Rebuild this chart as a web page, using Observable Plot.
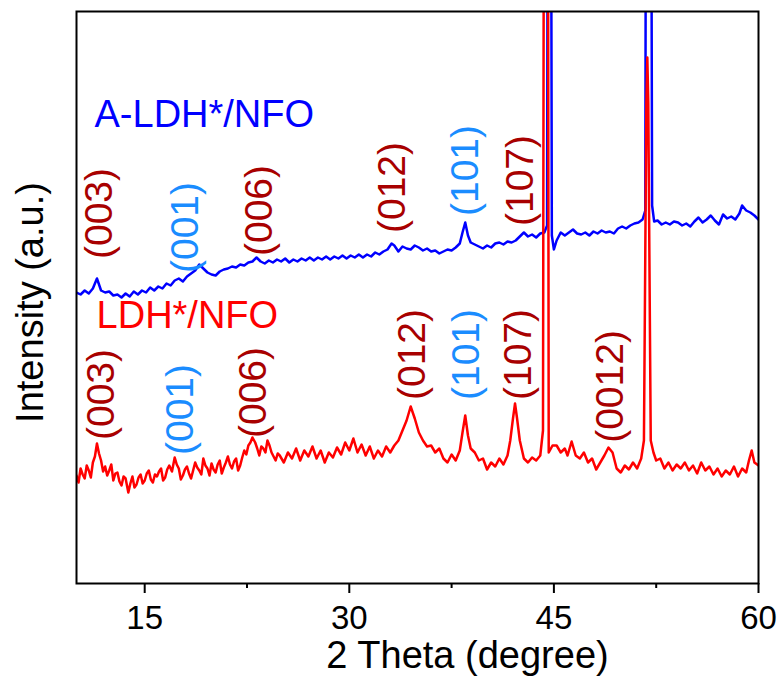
<!DOCTYPE html>
<html>
<head>
<meta charset="utf-8">
<script src="https://cdn.jsdelivr.net/npm/d3@7"></script>
<script src="https://cdn.jsdelivr.net/npm/@observablehq/plot@0.6"></script>
<style>
  html, body { margin: 0; padding: 0; background: #fff; }
  #chart svg { display: block; }
</style>
</head>
<body>
<div id="chart"></div>
<script>
// ---- Data (2θ in degrees, intensity in arbitrary units) ----
const redTheta = [10.0,10.15,10.3,10.45,10.6,10.75,10.9,11.05,11.2,11.35,11.5,11.65,11.8,11.95,12.1,12.25,12.4,12.55,12.7,12.85,13.0,13.15,13.3,13.45,13.6,13.8,13.95,14.1,14.25,14.4,14.55,14.7,14.85,15.0,15.15,15.3,15.45,15.6,15.75,15.9,16.05,16.2,16.35,16.5,16.65,16.8,17.0,17.2,17.35,17.5,17.65,17.8,17.95,18.1,18.25,18.4,18.55,18.7,18.85,19.0,19.15,19.3,19.45,19.6,19.75,19.9,20.05,20.2,20.35,20.5,20.65,20.8,20.95,21.1,21.25,21.4,21.55,21.7,21.85,22.0,22.15,22.3,22.45,22.6,22.75,22.9,23.1,23.25,23.4,23.55,23.7,23.85,24.0,24.15,24.3,24.45,24.6,24.75,24.9,25.2,25.5,25.8,26.1,26.4,26.7,27.0,27.3,27.6,27.9,28.2,28.5,28.8,29.1,29.4,29.7,30.0,30.3,30.6,30.9,31.2,31.5,31.8,32.1,32.4,32.7,33.0,33.3,33.6,33.9,34.2,34.5,34.8,35.1,35.4,35.7,36.0,36.3,36.6,36.9,37.2,37.5,37.8,38.1,38.3,38.5,38.7,38.9,39.2,39.5,39.8,40.1,40.4,40.7,41.0,41.3,41.6,41.8,42.0,42.15,42.3,42.5,42.8,43.1,43.4,43.7,44.0,44.2,44.32,44.52,44.62,44.9,45.2,45.5,45.8,46.0,46.3,46.6,46.9,47.2,47.5,47.8,48.1,48.4,48.7,49.0,49.3,49.6,49.9,50.2,50.5,50.8,51.1,51.4,51.6,51.78,51.85,51.92,52.1,52.3,52.5,52.8,53.1,53.4,53.7,54.0,54.3,54.6,54.9,55.2,55.5,55.8,56.1,56.4,56.7,57.0,57.3,57.6,57.9,58.2,58.5,58.8,59.1,59.3,59.5,59.7,60.0];
const redIntensity = [108,101,115,109,105,118,113,106,121,127,140,130,123,112,117,108,113,119,103,110,111,102,98,107,105,91,100,107,96,99,106,109,100,103,110,113,104,101,109,107,112,115,103,106,114,118,112,126,119,115,104,108,114,117,110,105,113,121,116,113,109,125,118,115,108,120,114,111,119,123,110,116,121,127,119,115,122,125,113,118,126,133,129,138,141,146,141,135,128,137,135,131,143,138,131,127,123,130,128,121,131,125,135,123,133,127,137,125,133,121,131,126,136,129,141,133,145,131,139,128,137,125,133,127,137,131,138,143,153,163,177,165,151,143,137,138,131,135,125,121,129,123,133,151,168,148,135,131,123,125,114,121,117,125,119,128,143,165,180,165,143,125,121,126,123,128,153,1200,1200,131,138,138,131,135,128,142,128,125,131,121,125,114,121,128,136,131,115,111,118,114,121,115,125,143,480,526,480,143,131,123,125,115,121,113,119,115,121,113,118,110,121,113,117,109,115,107,113,109,117,107,115,111,123,133,121,118];

const blueTheta = [10.0,10.3,10.6,10.9,11.2,11.5,11.8,12.1,12.4,12.7,13.0,13.3,13.6,13.9,14.2,14.5,14.8,15.1,15.4,15.7,16.0,16.3,16.6,16.9,17.2,17.5,17.8,18.1,18.4,18.7,19.0,19.3,19.6,19.9,20.2,20.5,20.8,21.1,21.4,21.7,22.0,22.3,22.6,22.9,23.2,23.5,23.8,24.1,24.4,24.7,25.0,25.3,25.6,25.9,26.2,26.5,26.8,27.1,27.4,27.7,28.0,28.3,28.6,28.9,29.2,29.5,29.8,30.1,30.4,30.7,31.0,31.3,31.6,31.9,32.2,32.5,32.8,33.1,33.3,33.6,33.9,34.2,34.5,34.8,35.1,35.4,35.7,36.0,36.3,36.6,36.9,37.2,37.5,37.8,38.1,38.3,38.5,38.7,38.9,39.2,39.5,39.8,40.1,40.4,40.7,41.0,41.3,41.6,41.9,42.2,42.5,42.8,43.1,43.4,43.7,44.0,44.3,44.5,44.6,44.72,44.85,45.0,45.2,45.5,45.8,46.1,46.4,46.7,47.0,47.3,47.6,47.9,48.2,48.5,48.8,49.1,49.4,49.7,50.0,50.3,50.6,50.9,51.2,51.5,51.7,51.8,52.05,52.2,52.35,52.6,52.9,53.2,53.5,53.8,54.1,54.4,54.7,55.0,55.3,55.6,55.9,56.2,56.5,56.8,57.1,57.4,57.7,58.0,58.3,58.6,58.8,59.1,59.4,59.7,60.0];
const blueIntensity = [291,289,293,290,295,305,293,291,292,288,289,286,290,287,292,289,293,291,296,293,297,295,300,298,303,305,302,307,310,313,319,315,311,309,308,312,314,315,317,316,319,318,321,322,326,322,320,323,321,324,322,325,321,324,322,325,323,326,323,326,324,327,324,327,325,328,325,328,326,329,326,329,327,331,329,332,334,340,338,332,337,335,334,338,336,333,335,332,333,330,332,334,333,336,340,351,361,348,341,339,337,335,338,336,340,341,339,342,341,343,347,351,347,349,346,350,351,358,1200,1200,348,334,343,351,348,351,354,350,349,351,348,352,350,353,351,352,350,355,357,355,358,360,361,364,373,1200,1200,378,362,363,359,361,359,362,361,358,360,357,362,366,361,364,368,363,359,369,365,367,364,370,378,373,371,368,364];

// Peak labels (Miller indices): position of label centre, and phase
const labelText  = ["(003)","(001)","(006)","(012)","(101)","(107)",
                    "(003)","(001)","(006)","(012)","(101)","(107)","(0012)"];
const labelTheta = [11.69,17.99,23.42,33.17,38.52,42.55,
                    11.83,17.62,22.98,34.63,38.59,42.40,49.15];
const labelIntensity = [370,356,373,396,413,403,
                        189,174,191,229,229,229,197];
const labelPhase = ["LDH","NFO","LDH","LDH","NFO","LDH",
                    "LDH","NFO","LDH","LDH","NFO","LDH","LDH"];

// Series names
const seriesName = ["A-LDH*/NFO","LDH*/NFO"];
const seriesTheta = [11.32,11.47];
const seriesIntensity = [469,268];

const xMajorTicks = [15,30,45,60];
const xMinorTicks = [22.5,37.5,52.5];

// ---- Build tables ----
const red = redTheta.map((t,i) => ({theta: t, I: redIntensity[i]}));
const blue = blueTheta.map((t,i) => ({theta: t, I: blueIntensity[i]}));
const labels = labelText.map((s,i) => ({text: s, theta: labelTheta[i], I: labelIntensity[i], phase: labelPhase[i]}));
const names = seriesName.map((s,i) => ({text: s, theta: seriesTheta[i], I: seriesIntensity[i]}));

const FONT = "'Liberation Sans', Arial, Helvetica, sans-serif";
const phaseColor = {LDH: "#a80000", NFO: "#1a8cff"};
const seriesColor = ["#0000ff", "#ff0000"];

const chart = Plot.plot({
  width: 780,
  height: 682,
  marginLeft: 76,
  marginRight: 22,
  marginTop: 11,
  marginBottom: 99,
  style: {fontFamily: FONT, background: "#fff", color: "#000"},
  x: {domain: [10, 60]},
  y: {domain: [0, 572]},
  marks: [
    Plot.lineY(blue, {x: "theta", y: "I", stroke: seriesColor[0], strokeWidth: 2.5, clip: true}),
    Plot.lineY(red, {x: "theta", y: "I", stroke: seriesColor[1], strokeWidth: 2.5, clip: true}),
    Plot.text(labels, {x: "theta", y: "I", text: "text", rotate: -90, textAnchor: "middle", lineAnchor: "middle",
      fill: d => phaseColor[d.phase], fontSize: 39}),
    Plot.text(names, {x: "theta", y: "I", text: "text", textAnchor: "start", lineAnchor: "middle",
      fill: (d, i) => seriesColor[i], fontSize: 38}),
    Plot.frame({stroke: "#000", strokeWidth: 2}),
    Plot.axisX({ticks: xMajorTicks, tickSize: 10, tickPadding: 12, fontSize: 33, label: null, strokeWidth: 2, tickFormat: d => String(d)}),
    Plot.axisX({ticks: xMinorTicks, tickSize: 5, label: null, strokeWidth: 2, tickFormat: () => ""}),
    Plot.axisY({ticks: [], label: null}),
    Plot.text(["2 Theta (degree)"], {frameAnchor: "bottom", dx: 50, dy: 72, lineAnchor: "middle", fontSize: 38}),
    Plot.text(["Intensity (a.u.)"], {frameAnchor: "left", dx: -46, dy: 5, rotate: -90, textAnchor: "middle", lineAnchor: "middle", fontSize: 38})
  ]
});
document.getElementById("chart").appendChild(chart);
</script>
</body>
</html>
